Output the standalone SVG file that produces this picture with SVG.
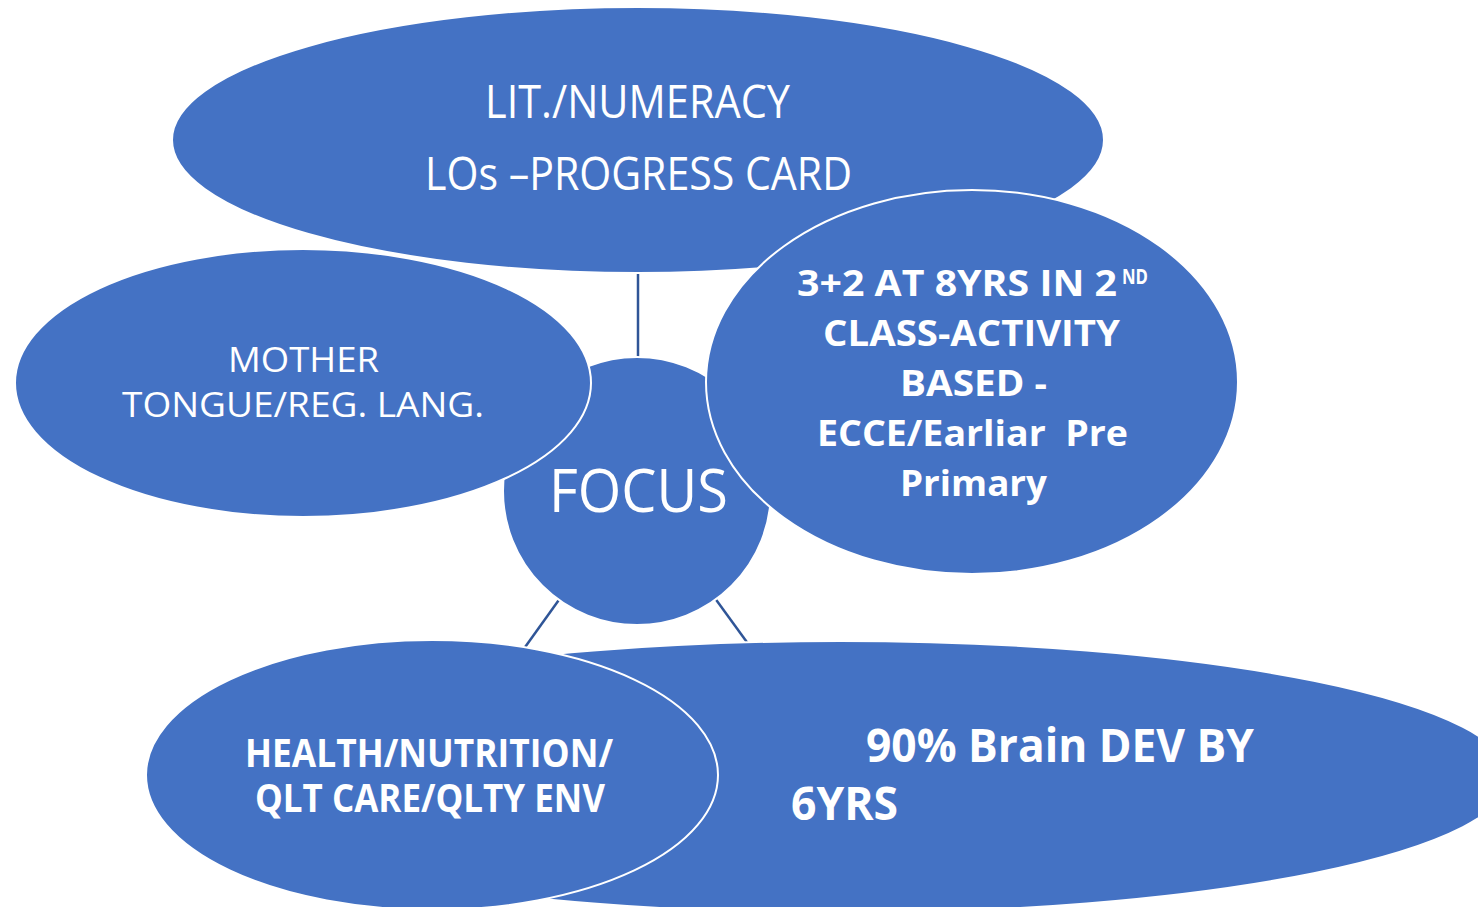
<svg xmlns="http://www.w3.org/2000/svg" width="1478" height="907" viewBox="0 0 1478 907">
<style>
.n{fill:#4472C4;stroke:#FFFFFF;stroke-width:2}
.c{stroke:#2F5597;stroke-width:2.5;fill:none}
.t{fill:#FFFFFF;font-family:"Open Sans","Noto Sans","Liberation Sans",sans-serif;font-weight:400}
.b{fill:#FFFFFF;font-family:"Open Sans","Noto Sans","Liberation Sans",sans-serif;font-weight:700}
</style>
<rect width="1478" height="907" fill="#FFFFFF"/>
<g id="connectors">
<line class="c" x1="638" y1="491" x2="638" y2="270"/>
<line class="c" x1="637" y1="491" x2="523" y2="650"/>
<line class="c" x1="637" y1="491" x2="749" y2="645"/>
</g>
<g id="node-lit">
<ellipse class="n" cx="638" cy="140" rx="466" ry="133"/>
<text class="t" x="485" y="118" font-size="45" textLength="305" lengthAdjust="spacingAndGlyphs">LIT./NUMERACY</text>
<text class="t" x="425" y="190" font-size="45" textLength="427" lengthAdjust="spacingAndGlyphs">LOs –PROGRESS CARD</text>
</g>
<g id="node-brain">
<ellipse class="n" cx="840" cy="777" rx="670" ry="136"/>
<text class="b" x="866" y="762" font-size="47" textLength="388" lengthAdjust="spacingAndGlyphs">90% Brain DEV BY</text>
<text class="b" x="791" y="820" font-size="47" textLength="107" lengthAdjust="spacingAndGlyphs">6YRS</text>
</g>
<g id="node-focus">
<circle class="n" cx="637" cy="491" r="134"/>
<text class="t" x="549" y="512" font-size="60" textLength="179" lengthAdjust="spacingAndGlyphs">FOCUS</text>
</g>
<g id="node-mother">
<ellipse class="n" cx="303" cy="383" rx="288" ry="134"/>
<text class="t" x="228" y="372" font-size="34" textLength="151" lengthAdjust="spacingAndGlyphs">MOTHER</text>
<text class="t" x="122" y="417" font-size="34" textLength="362" lengthAdjust="spacingAndGlyphs">TONGUE/REG. LANG.</text>
</g>
<g id="node-ecce">
<ellipse class="n" cx="972" cy="382" rx="266" ry="192"/>
<text class="b" x="797" y="296" font-size="35" textLength="320" lengthAdjust="spacingAndGlyphs">3+2 AT 8YRS IN 2</text>
<text class="b" x="1122" y="284" font-size="21" textLength="26" lengthAdjust="spacingAndGlyphs">ND</text>
<text class="b" x="823" y="346" font-size="35" textLength="297" lengthAdjust="spacingAndGlyphs">CLASS-ACTIVITY</text>
<text class="b" x="900" y="396" font-size="35" textLength="147" lengthAdjust="spacingAndGlyphs">BASED -</text>
<text class="b" x="817" y="446" font-size="35" textLength="311" lengthAdjust="spacingAndGlyphs" style="white-space:pre">ECCE/Earliar  Pre</text>
<text class="b" x="900" y="496" font-size="35" textLength="147" lengthAdjust="spacingAndGlyphs">Primary</text>
</g>
<g id="node-health">
<ellipse class="n" cx="432" cy="775" rx="286" ry="135"/>
<text class="b" x="245" y="767" font-size="39" textLength="368" lengthAdjust="spacingAndGlyphs">HEALTH/NUTRITION/</text>
<text class="b" x="255" y="812" font-size="39" textLength="350" lengthAdjust="spacingAndGlyphs">QLT CARE/QLTY ENV</text>
</g>
</svg>
